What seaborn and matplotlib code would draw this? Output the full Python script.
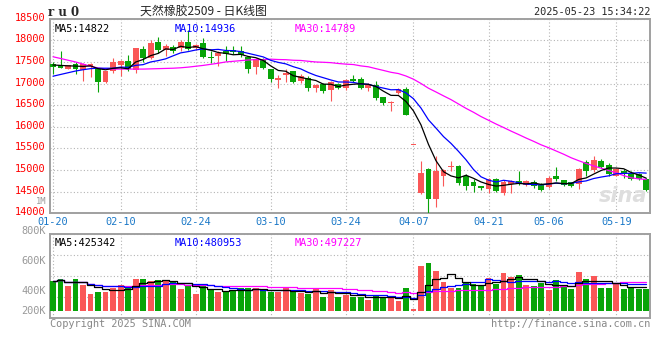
import numpy as np
import pandas as pd
import matplotlib
matplotlib.use('Agg')
import matplotlib.pyplot as plt
from matplotlib.transforms import ScaledTranslation
import seaborn as sns

# trading days 2025-01-20 .. 2025-05-23 (SHFE holidays removed)
holidays = ['2025-01-28', '2025-01-29', '2025-01-30', '2025-01-31', '2025-02-03',
            '2025-02-04', '2025-04-04', '2025-05-01', '2025-05-02', '2025-05-05']
days = pd.bdate_range('2025-01-20', '2025-05-23')
days = days[~days.isin(pd.to_datetime(holidays))]
day_labels = [d.strftime('%m-%d') for d in days]

tick_dates = ['01-20', '02-10', '02-24', '03-10', '03-24', '04-07', '04-21', '05-06', '05-19']

# daily candles
opens = [17446, 17423, 17346, 17446, 17308, 17400, 17331, 17046, 17292, 17431,
         17523, 17308, 17808, 17585, 17969, 17769, 17854, 17815, 17969, 17815,
         17946, 17615, 17638, 17754, 17777, 17754, 17615, 17392, 17562, 17331,
         17085, 17200, 17292, 17062, 17138, 16892, 17000, 16854, 17000, 16908,
         17099, 17099, 16909, 16970, 16696, 16543, 16772, 16871, 15570, 14474,
         15029, 14321, 14869, 15060, 15097, 14869, 14725, 14626, 14573, 14801,
         14470, 14676, 14752, 14660, 14714, 14661, 14600, 14867, 14760, 14722,
         14676, 15195, 15004, 15218, 15118, 14874, 14981, 14943, 14905, 14790]
highs = [17508, 17754, 17440, 17508, 17480, 17470, 17340, 17300, 17600, 17540,
         17662, 17830, 17869, 18008, 18077, 17908, 17892, 18008, 18238, 17920,
         18062, 17754, 17754, 17869, 17869, 17869, 17620, 17580, 17600, 17340,
         17200, 17331, 17300, 17215, 17177, 16985, 17010, 17060, 17015, 17115,
         17198, 17152, 17023, 17061, 16700, 16590, 16909, 16924, 15570, 15219,
         15050, 15326, 15020, 15211, 15110, 14915, 14801, 14640, 14816, 14810,
         14760, 14760, 14989, 14775, 14760, 14699, 14851, 15080, 14775, 14730,
         15057, 15233, 15332, 15256, 15157, 15042, 15020, 14981, 14928, 14813]
lows = [17216, 17350, 17330, 17216, 17062, 17162, 16815, 17008, 17254, 17177,
        17292, 17254, 17500, 17562, 17715, 17638, 17715, 17754, 17769, 17780,
        17600, 17469, 17408, 17523, 17677, 17623, 17254, 17215, 17331, 17046,
        16908, 17046, 17008, 17023, 16830, 16808, 16792, 16600, 16870, 16854,
        17046, 16870, 16817, 16620, 16505, 16361, 16756, 16262, 15570, 14436,
        14017, 14146, 14626, 14968, 14664, 14535, 14497, 14535, 14459, 14489,
        14417, 14470, 14660, 14638, 14585, 14508, 14585, 14737, 14623, 14608,
        14562, 14874, 14966, 15042, 14874, 14851, 14813, 14760, 14760, 14508]
closes = [17392, 17369, 17423, 17331, 17462, 17462, 17046, 17292, 17500, 17523,
          17346, 17823, 17592, 17946, 17777, 17869, 17754, 17969, 17792, 17892,
          17615, 17592, 17700, 17692, 17731, 17662, 17346, 17562, 17369, 17100,
          17138, 17254, 17046, 17177, 16908, 16970, 16830, 17038, 16908, 17085,
          17061, 16886, 16970, 16658, 16543, 16581, 16871, 16277, 15570, 14930,
          14321, 14983, 15006, 15082, 14702, 14626, 14626, 14588, 14794, 14512,
          14714, 14752, 14684, 14737, 14623, 14546, 14813, 14790, 14661, 14623,
          15027, 14989, 15233, 15080, 14905, 15027, 14905, 14798, 14798, 14531]
# volume in thousands of lots
volumes_k = [532, 568, 443, 568, 473, 299, 335, 335, 419, 473,
             455, 568, 568, 532, 550, 532, 532, 389, 473, 299,
             443, 383, 335, 359, 359, 407, 407, 419, 359, 335,
             335, 419, 371, 323, 299, 407, 260, 383, 251, 281,
             251, 251, 203, 293, 251, 233, 180, 413, 36, 802,
             862, 718, 520, 419, 419, 520, 491, 461, 598, 491,
             682, 610, 640, 461, 443, 503, 371, 550, 461, 389,
             700, 568, 620, 410, 410, 500, 395, 430, 400, 400]

# MA values at the left edge, where the window reaches back before 01-20
ma5_head = [17430, 17420, 17410, 17405]
ma10_head = [17170, 17210, 17250, 17290, 17320, 17345, 17355, 17355, 17355]
ma30_head = [17620, 17580, 17540, 17500, 17450, 17400, 17360, 17340, 17335, 17335,
             17335, 17335, 17335, 17340, 17345, 17350, 17355, 17365, 17380, 17400,
             17420, 17445, 17470, 17500, 17515, 17530, 17545, 17555, 17550]

price_ticks = list(range(14000, 18501, 500))
vol_labels = ['800K', '600K', '400K', '200K']

RED = '#fa5757'
GREEN = '#08a408'
BLUE_TXT = '#1a78c8'
MONO = 'DejaVu Sans Mono'

df = pd.DataFrame({'open': opens, 'high': highs, 'low': lows, 'close': closes,
                   'vol': np.array(volumes_k) * 1000})
df['x'] = np.arange(len(df))
for n, head in ((5, ma5_head), (10, ma10_head), (30, ma30_head)):
    ma = df['close'].rolling(n).mean()
    ma.iloc[:n - 1] = head
    df['ma%d' % n] = ma
    df['vma%d' % n] = df['vol'].rolling(n, min_periods=1).mean()
up = df['close'] >= df['open']
colors = np.where(up, RED, GREEN)

sns.set_style('white')
plt.rcParams['font.family'] = ['DejaVu Sans Mono', 'Noto Sans CJK SC']

fig = plt.figure(figsize=(6.6, 3.6), dpi=100)
ax = fig.add_axes([50 / 660, 1 - 213.3 / 360, 600 / 660, 194.6 / 360])
axv = fig.add_axes([50 / 660, 1 - 318 / 360, 600 / 660, 83.7 / 360])

tick_pos = [day_labels.index(t) for t in tick_dates]
grid_kw = dict(color='#b4b4b4', linestyle=(0, (1, 2)), linewidth=0.8)

# ---- price panel
ax.vlines(df['x'], df['low'], df['high'], colors=colors, linewidth=0.8, zorder=3)
body_lo = np.minimum(df['open'], df['close'])
body_h = np.maximum((df['close'] - df['open']).abs(), 25)
ax.bar(df['x'], body_h, bottom=body_lo, width=0.78, color=colors, linewidth=0, zorder=4)
sns.lineplot(x=df['x'], y=df['ma30'], color='#ff00ff', linewidth=0.9, ax=ax, zorder=5)
sns.lineplot(x=df['x'], y=df['ma10'], color='#0000ff', linewidth=0.9, ax=ax, zorder=6)
sns.lineplot(x=df['x'], y=df['ma5'], color='black', linewidth=0.9, ax=ax, zorder=7)

ax.set_xlim(-0.4, 79.5)
ax.set_ylim(14000, 18500)
ax.set_yticks(price_ticks)
ax.set_yticklabels([str(t) for t in price_ticks], color='#ff0000', fontsize=7.4, family=MONO)
ax.set_xticks(tick_pos)
ax.set_xticklabels(tick_dates, color=BLUE_TXT, fontsize=7.4, family=MONO)
ax.tick_params(length=0, pad=3)
# the price labels sit a little above their grid lines
lift = ScaledTranslation(0, 2 / 100, fig.dpi_scale_trans)
for lab in ax.get_yticklabels():
    lab.set_transform(lab.get_transform() + lift)
ax.grid(True, **grid_kw)
ax.set_xlabel('')
ax.set_ylabel('')
for s in ax.spines.values():
    s.set_color('#a0a0a0')
    s.set_linewidth(1.4)

ax.text(0.007, 0.975, 'MA5:14822', transform=ax.transAxes, fontsize=7.4, color='black',
        va='top', family=MONO)
ax.text(0.207, 0.975, 'MA10:14936', transform=ax.transAxes, fontsize=7.4, color='#0000ff',
        va='top', family=MONO)
ax.text(0.408, 0.975, 'MA30:14789', transform=ax.transAxes, fontsize=7.4, color='#ff00ff',
        va='top', family=MONO)
ax.text(0.955, 0.09, 'sina', transform=ax.transAxes, fontsize=15, color='#dedede',
        ha='center', va='center', style='italic', weight='bold', family='DejaVu Sans', zorder=1)

# ---- volume panel
axv.bar(df['x'], df['vol'], width=0.78, color=colors, linewidth=0, zorder=3)
sns.lineplot(x=df['x'], y=df['vma30'], color='#ff00ff', linewidth=0.9, ax=axv,
             drawstyle='steps-mid', zorder=4)
sns.lineplot(x=df['x'], y=df['vma10'], color='#0000ff', linewidth=0.9, ax=axv,
             drawstyle='steps-mid', zorder=5)
sns.lineplot(x=df['x'], y=df['vma5'], color='black', linewidth=0.9, ax=axv,
             drawstyle='steps-mid', zorder=6)
vlo, vhi = -125000, 1377000
axv.set_xlim(-0.4, 79.5)
axv.set_ylim(vlo, vhi)
axv.set_yticks(np.linspace(vlo, vhi, 5))
axv.set_yticklabels([])
axv.set_xticks(tick_pos)
axv.set_xticklabels([])
axv.tick_params(length=0)
axv.grid(True, **grid_kw)
axv.set_xlabel('')
axv.set_ylabel('')
for s in axv.spines.values():
    s.set_color('#a0a0a0')
    s.set_linewidth(1.4)
for lab, fy in zip(vol_labels, [1.043, 0.681, 0.326, 0.084]):
    axv.text(-0.007, fy, lab, transform=axv.transAxes, ha='right', va='center',
             fontsize=7.4, color='#999999', family=MONO)
axv.text(0.007, 0.96, 'MA5:425342', transform=axv.transAxes, fontsize=7.4, color='black',
         va='top', family=MONO)
axv.text(0.207, 0.96, 'MA10:480953', transform=axv.transAxes, fontsize=7.4, color='#0000ff',
         va='top', family=MONO)
axv.text(0.408, 0.96, 'MA30:497227', transform=axv.transAxes, fontsize=7.4, color='#ff00ff',
         va='top', family=MONO)

# ---- header / footer texts
fig.text(48 / 660, 1 - 12 / 360, 'r u 0', fontsize=8.5, weight='bold', family='DejaVu Serif',
         va='center', ha='left')
fig.text(140 / 660, 1 - 12 / 360, '天然橡胶2509 - 日K线图', fontsize=8.6,
         family=['Noto Sans CJK SC', 'DejaVu Sans'], va='center', ha='left')
fig.text(650 / 660, 1 - 12 / 360, '2025-05-23 15:34:22', fontsize=7.4, family=MONO,
         va='center', ha='right')
fig.text(46 / 660, 1 - 201.5 / 360, '1M', fontsize=6.3, family=MONO, color='#999999',
         va='center', ha='right')
fig.text(50 / 660, 1 - 324 / 360, 'Copyright 2025 SINA.COM', fontsize=7.4, family=MONO,
         color='#888888', va='center', ha='left')
fig.text(650 / 660, 1 - 324 / 360, 'http://finance.sina.com.cn', fontsize=7.4, family=MONO,
         color='#888888', va='center', ha='right')

fig.savefig('out.png', dpi=100, facecolor='white')
